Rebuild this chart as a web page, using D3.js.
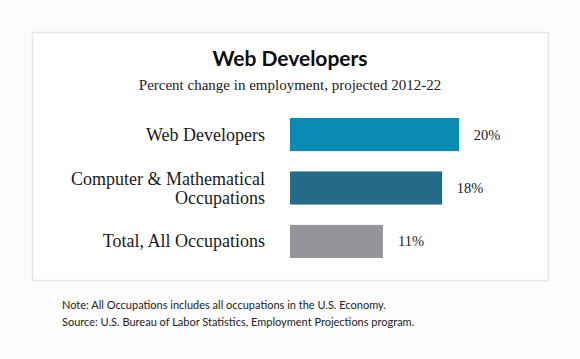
<!DOCTYPE html>
<html>
<head>
<meta charset="utf-8">
<script src="https://cdn.jsdelivr.net/npm/d3@7"></script>
<style>
  body { margin: 0; background: #fcfcfc; }
  svg { display: block; }
</style>
</head>
<body>
<div id="chart"></div>
<script>
// chart data
const categories = ["Web Developers", "Computer & Mathematical Occupations", "Total, All Occupations"];
const labelLines = [["Web Developers"], ["Computer & Mathematical", "Occupations"], ["Total, All Occupations"]];
const values = [20, 18, 11];
const barColors = ["#0a8bb3", "#246b89", "#939598"];
const notes = [
    "Note: All Occupations includes all occupations in the U.S. Economy.",
    "Source: U.S. Bureau of Labor Statistics, Employment Projections program."
];

const W = 580, H = 359;
const serif = "'Liberation Serif', 'DejaVu Serif', serif";
const sans = "Lato, 'Noto Sans', sans-serif";

const svg = d3.select("#chart")
    .append("svg")
    .attr("width", W)
    .attr("height", H);

// framed panel
svg.append("rect")
    .attr("x", 32.5)
    .attr("y", 32.5)
    .attr("width", 516)
    .attr("height", 248)
    .attr("fill", "#ffffff")
    .attr("stroke", "#e6e6e6")
    .attr("stroke-width", 1.5);

svg.append("text")
    .attr("x", 290)
    .attr("y", 66)
    .attr("text-anchor", "middle")
    .attr("font-family", sans)
    .attr("font-weight", "bold")
    .attr("font-size", "21px")
    .attr("fill", "#0d0d0d")
    .text("Web Developers");

svg.append("text")
    .attr("x", 290)
    .attr("y", 90)
    .attr("text-anchor", "middle")
    .attr("font-family", serif)
    .attr("font-size", "15px")
    .attr("fill", "#222")
    .text("Percent change in employment, projected 2012-22");

const x = d3.scaleLinear()
    .domain([0, 20])
    .range([290, 459]);

const y = d3.scaleBand()
    .domain(categories)
    .range([118, 258])
    .paddingInner(0.38);

const rows = svg.append("g")
    .selectAll("g")
    .data(categories)
    .enter().append("g");

rows.append("rect")
    .attr("x", x(0))
    .attr("y", d => y(d))
    .attr("width", (d, i) => x(values[i]) - x(0))
    .attr("height", y.bandwidth())
    .attr("fill", (d, i) => barColors[i]);

// category labels, right aligned, wrapped lines
rows.append("text")
    .attr("text-anchor", "end")
    .attr("font-family", serif)
    .attr("font-size", "18px")
    .attr("fill", "#1a1a1a")
    .each(function(d, i) {
        const lines = labelLines[i];
        const cy = y(d) + y.bandwidth() / 2;
        const lh = 19;
        const t = d3.select(this);
        lines.forEach((ln, k) => {
            t.append("tspan")
                .attr("x", 265)
                .attr("y", cy + 6 + (k - (lines.length - 1) / 2) * lh)
                .text(ln);
        });
    });

// value labels
rows.append("text")
    .attr("x", (d, i) => x(values[i]) + 28)
    .attr("y", d => y(d) + y.bandwidth() / 2 + 5)
    .attr("text-anchor", "middle")
    .attr("font-family", serif)
    .attr("font-size", "14.5px")
    .attr("fill", "#222")
    .text((d, i) => values[i] + "%");

// footnotes
svg.append("g")
    .selectAll("text")
    .data(notes)
    .enter().append("text")
    .attr("x", 62)
    .attr("y", (d, i) => 309 + i * 17)
    .attr("font-family", sans)
    .attr("font-size", "11px")
    .attr("fill", "#222")
    .text(d => d);
</script>
</body>
</html>
